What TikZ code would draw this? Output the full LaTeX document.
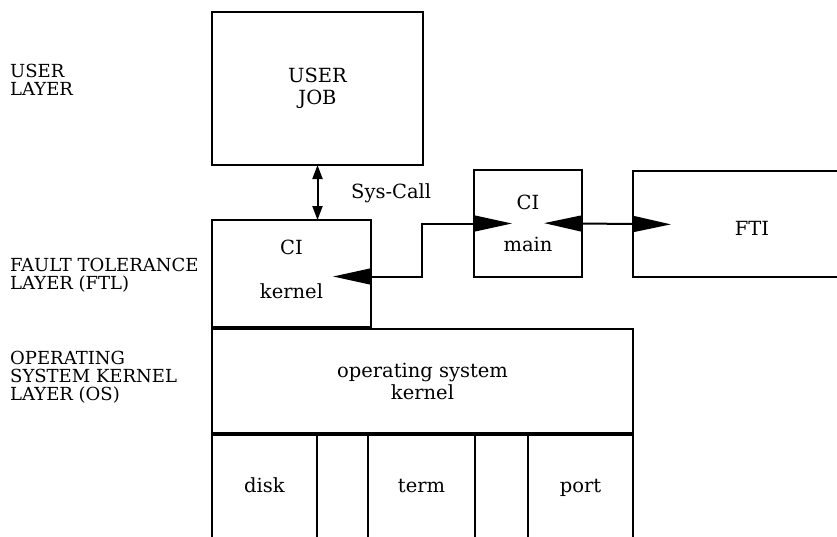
\documentclass[tikz,border=0pt]{standalone}
\usepackage{fontspec}
\setmainfont{DejaVu Serif}
\usetikzlibrary{arrows.meta}
\begin{document}
\begin{tikzpicture}[x=1pt,y=-1pt,
  box/.style={draw,line width=2pt,inner sep=0pt,outer sep=0pt,anchor=north west,
    font=\fontsize{19.5}{22}\selectfont,align=center},
  devbox/.style={box,minimum height=106pt,text height=17pt,text depth=7pt},
  layerlabel/.style={anchor=north west,inner sep=0pt,align=left,
    font=\fontsize{18}{18}\selectfont},
  conn/.style={line width=2pt},
  bigarrows/.style={conn,{Triangle[length=38pt,width=16pt]}-{Triangle[length=38pt,width=16pt]},
    shorten <=-38pt,shorten >=-38pt},
  callarrow/.style={conn,{Triangle[length=14pt,width=10pt]}-{Triangle[length=14pt,width=10pt]}}]
\useasboundingbox (0,0) rectangle (837,536);
\clip (0,0) rectangle (837,536);

% layer labels
\node[layerlabel] (lu) at (10,64) {USER\\LAYER};
\node[layerlabel] (lf) at (10,258) {FAULT TOLERANCE\\LAYER (FTL)};
\node[layerlabel] (lo) at (10,351) {OPERATING\\SYSTEM KERNEL\\LAYER (OS)};

% boxes
\node[box,minimum width=211pt,minimum height=153pt] (user) at (212,12) {USER\\JOB};
\node[box,minimum width=159pt,minimum height=107pt,text depth=9pt] (kernel) at (212,220) {CI\\[22pt]kernel};
\node[box,minimum width=108pt,minimum height=107pt] (cimain) at (474,170) {CI\\[20pt]main};
\node[box,minimum width=238pt,minimum height=106pt,text height=22pt] (fti) at (633,171) {FTI};
\node[box,minimum width=421pt,minimum height=105pt] (os) at (212,329) {operating system\\kernel};
\draw[line width=4.5pt] (os.south west) -- (os.south east);
\node[devbox,minimum width=105pt] (disk) at (212,434) {disk};
\node[devbox,minimum width=107pt] (term) at (368,434) {term};
\node[devbox,minimum width=105pt] (port) at (528,434) {port};

% connectors
\draw[callarrow] (user.south) -- (user.south |- kernel.north);
\node[anchor=base west,inner sep=0pt,font=\fontsize{19.5}{22}\selectfont] (syscall) at (351,198) {Sys-Call};
\draw[bigarrows] ([yshift=-3pt]kernel.east) -- ++(51,0) |- (cimain.west);
\draw[bigarrows] (cimain.east) -- (fti.west);
\end{tikzpicture}
\end{document}
